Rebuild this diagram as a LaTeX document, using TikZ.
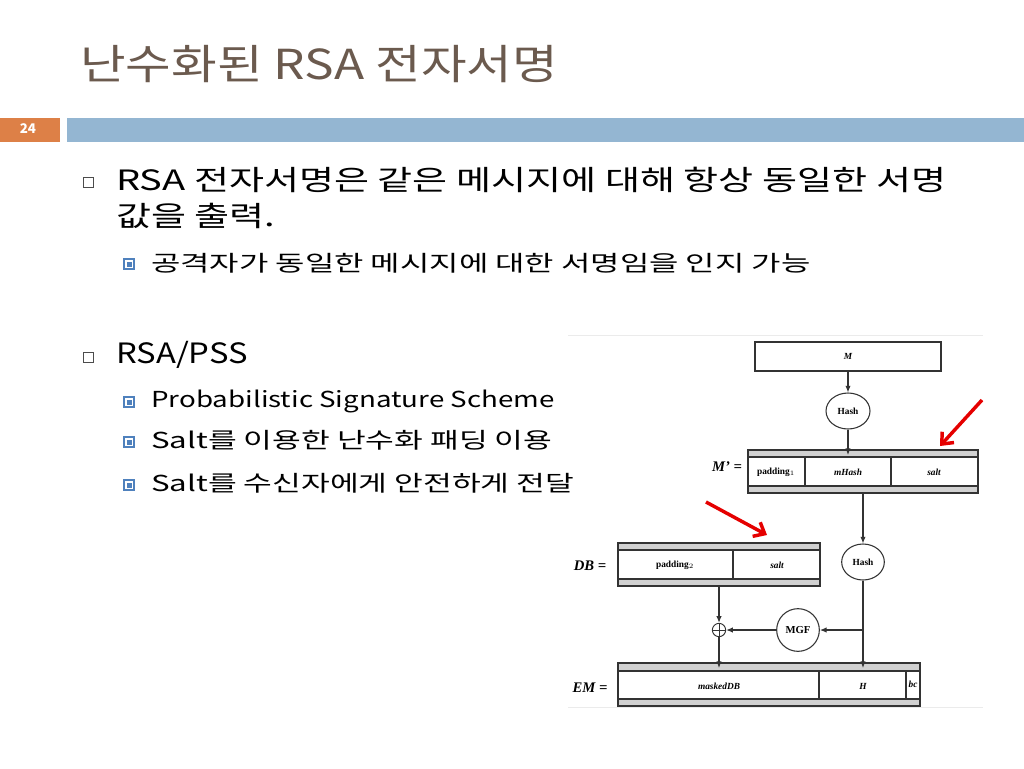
\documentclass[tikz,border=0pt]{standalone}
\usepackage{fontspec}
\usepackage{graphicx}
\setmainfont{Noto Sans CJK KR}
\newfontfamily\tms{Liberation Serif}
\usetikzlibrary{arrows.meta,shapes.geometric}
\definecolor{titlec}{HTML}{6B5A4E}
\definecolor{barc}{HTML}{94B6D2}
\definecolor{numc}{HTML}{DD8047}
\definecolor{subc}{HTML}{4F81BD}
\newcommand{\wx}[2]{\scalebox{#1}[1]{#2}}
\begin{document}
\begin{tikzpicture}[x=0.75pt,y=-0.75pt,
  txt/.style={anchor=west,inner sep=0pt},
  main/.style={txt,font=\fontsize{21}{24}\selectfont},
  sub/.style={txt,font=\fontsize{16.5}{19}\selectfont},
  lbl/.style={inner sep=0pt,font=\tms\bfseries\fontsize{7}{8}\selectfont},
  ilbl/.style={inner sep=0pt,font=\tms\bfseries\itshape\fontsize{7}{8}\selectfont},
  big/.style={inner sep=0pt,font=\tms\bfseries\itshape\fontsize{11}{12}\selectfont},
  ln/.style={draw=black!80,line width=0.8pt},
  ar/.style={ln,-{Latex[length=5pt,width=4pt]}},
  red/.style={draw=red!90!black,line width=2.6pt,-{Straight Barb[length=7pt,width=12pt]}},
  strip/.style={fill=black!18,draw=black!80,line width=0.8pt}]
\useasboundingbox (0,0) rectangle (1024,768);
% header
\node[txt,text=titlec,font=\fontsize{31}{34}\selectfont] (title) at (80,64) {\wx{1.2}{난수화된 RSA 전자서명}};
\fill[barc] (67,118) rectangle (1024,142);
\fill[numc] (0,118) rectangle (60,142);
\node[text=white,font=\bfseries\fontsize{10}{12}\selectfont] (num) at (28,129) {24};
% bullets
\tikzset{hb/.pic={\draw[black!70,line width=0.6pt] (-5,-5) rectangle (5,5);},
  sb/.pic={\draw[subc,line width=0.8pt] (-5,-5) rectangle (5,5);\fill[subc] (-2.5,-2.5) rectangle (2.5,2.5);}}
\pic at (88,182) {hb};
\node[main] (t1) at (116,180) {\wx{1.36}{RSA 전자서명은 같은 메시지에 대해 항상 동일한 서명}};
\node[main] (t2) at (116,216) {\wx{1.36}{값을 출력.}};
\pic at (129,264) {sb};
\node[sub] (t3) at (151,263) {\wx{1.45}{공격자가 동일한 메시지에 대한 서명임을 인지 가능}};
\pic at (88,357) {hb};
\node[main] (t4) at (116,355) {\wx{1.17}{RSA/PSS}};
\pic at (129,402) {sb};
\node[sub] (t5) at (151,401) {\wx{1.26}{Probabilistic Signature Scheme}};
\pic at (129,442) {sb};
\node[sub] (t6) at (151,440) {\wx{1.42}{Salt를 이용한 난수화 패딩 이용}};
\pic at (129,485) {sb};
\node[sub] (t7) at (151,483) {\wx{1.42}{Salt를 수신자에게 안전하게 전달}};
% diagram frame lines
\draw[black!8,line width=0.6pt] (568,335) -- (983,335);
\draw[black!8,line width=0.6pt] (568,707) -- (983,707);
% M
\draw[ln] (755,342) rectangle (941,371);
\node[ilbl] (M) at (848,356) {M};
\coordinate (Mb) at (848,371);
\node[ln,ellipse,minimum width=33pt,minimum height=27pt,inner sep=0pt,lbl] (h1) at (848,411) {Hash};
\draw[ar] (Mb) -- (h1.north);
% M'
\draw[strip] (748,450) rectangle (978,457);
\draw[strip] (748,486) rectangle (978,493);
\draw[ln] (748,457) rectangle (978,486);
\draw[ln] (805,457) -- (805,486); \draw[ln] (891,457) -- (891,486);
\node[lbl] (p1) at (776,472) {padding$_1$};
\node[ilbl] (mh) at (848,472) {mHash};
\node[ilbl] (s1) at (934,472) {salt};
\node[big] (Mp) at (727,467) {M’ =};
\coordinate (Mpt) at (848,455);
\draw[ar] (h1.south) -- (Mpt);
\coordinate (Mpb) at (863,493);
\node[ln,ellipse,minimum width=32pt,minimum height=27pt,inner sep=0pt,lbl] (h2) at (863,562) {Hash};
\draw[ar] (Mpb) -- (h2.north);
% DB
\draw[strip] (618,543) rectangle (820,550);
\draw[strip] (618,579) rectangle (820,586);
\draw[ln] (618,550) rectangle (820,579);
\draw[ln] (733,550) -- (733,579);
\node[lbl] (p2) at (675,565) {padding$_2$};
\node[ilbl] (s2) at (777,565) {salt};
\node[big] (DB) at (590,566) {DB =};
\coordinate (DBb) at (719,586);
% xor & mgf
\node[draw=black!80,circle,line width=0.7pt,minimum size=10pt,inner sep=0pt] (x) at (719,630) {};
\draw[black!80,line width=0.7pt] (x.north) -- (x.south) (x.west) -- (x.east);
\node[ln,circle,minimum size=32pt,inner sep=0pt,lbl,font=\tms\bfseries\fontsize{8}{9}\selectfont] (mgf) at (798,630) {MGF};
\coordinate (br) at (863,630);
\draw[ar] (DBb) -- (x.north);
\draw[ar] (br) -- (mgf.east);
\draw[ar] (mgf.west) -- (x.east);
% EM
\draw[strip] (618,663) rectangle (920,671);
\draw[strip] (618,699) rectangle (920,706);
\draw[ln] (618,671) rectangle (920,699);
\draw[ln] (819,671) -- (819,699); \draw[ln] (906,671) -- (906,699);
\node[ilbl] (mdb) at (719,686) {maskedDB};
\node[ilbl] (H) at (863,686) {H};
\node[ilbl] (bc) at (913,684) {bc};
\node[big] (EM) at (590,688) {EM =};
\coordinate (EMx) at (719,668);
\coordinate (EMh) at (863,668);
\draw[ar] (x.south) -- (EMx);
\draw[ar] (h2.south) -- (EMh);
% red arrows
\coordinate (r1a) at (982,400); \coordinate (r1b) at (940,446);
\coordinate (r2a) at (706,502); \coordinate (r2b) at (767,535);
\draw[red] (r1a) -- (r1b);
\draw[red] (r2a) -- (r2b);
\end{tikzpicture}
\end{document}
